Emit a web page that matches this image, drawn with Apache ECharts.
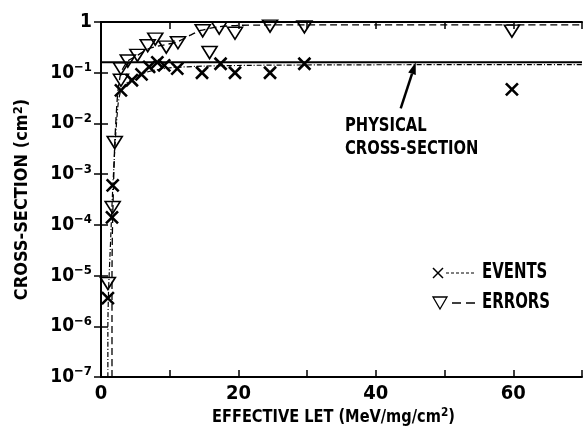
<!DOCTYPE html>
<html>
<head>
<meta charset="utf-8">
<script src="https://cdn.jsdelivr.net/npm/echarts@6/dist/echarts.min.js"></script>
<style>
  html, body { margin: 0; padding: 0; background: #fff; }
  #chart { width: 585px; height: 433px; }
</style>
</head>
<body>
<div id="chart"></div>
<script>
// Measured single-event upsets versus effective LET
const eventsLet = [1.0, 1.6, 1.7, 2.9, 4.5, 5.9, 7.0, 8.2, 9.2, 11.1, 14.7, 17.4, 19.5, 24.6, 29.6, 59.8];
const eventsXs  = [3.6e-6, 1.4e-4, 6.0e-4, 0.045, 0.071, 0.093, 0.13, 0.16, 0.14, 0.12, 0.10, 0.15, 0.10, 0.10, 0.15, 0.047];

const errorsLet = [1.0, 1.7, 2.0, 2.9, 2.9, 3.9, 5.3, 6.8, 7.9, 9.5, 11.2, 14.8, 15.8, 17.2, 19.5, 24.6, 29.6, 59.8];
const errorsXs  = [7e-6, 2.2e-4, 4.2e-3, 0.12, 0.071, 0.17, 0.22, 0.34, 0.46, 0.32, 0.39, 0.67, 0.25, 0.76, 0.60, 0.83, 0.80, 0.66];

// Fitted response curves
const eventsFitLet = [1.0, 1.0, 1.1, 1.4, 1.7, 2.1, 2.5, 2.9, 3.6, 4.5, 5.9, 7.5, 10, 15, 22, 35, 70];
const eventsFitXs  = [1e-7, 1e-6, 5e-6, 5e-5, 5e-4, 5e-3, 0.025, 0.045, 0.06, 0.075, 0.095, 0.11, 0.125, 0.135, 0.14, 0.143, 0.145];

const errorsFitLet = [1.6, 1.6, 1.65, 1.75, 2.0, 2.4, 2.9, 3.9, 5.3, 7.0, 9.0, 11.0, 13.0, 14.5, 17.0, 20.0, 30, 70];
const errorsFitXs  = [1e-7, 1e-5, 6e-5, 2.5e-4, 4e-3, 0.035, 0.1, 0.17, 0.22, 0.3, 0.35, 0.4, 0.55, 0.68, 0.8, 0.86, 0.88, 0.88];

// Physical (geometric) cross-section
const physicalLet = [0, 70];
const physicalXs  = [0.16, 0.16];

const FONT = '"Liberation Sans Narrow","DejaVu Sans Condensed","Arial Narrow",sans-serif';
const pairs = (xs, ys) => xs.map((x, i) => [x, ys[i]]);

const X_PATH = 'path://M0,0L10,10M10,0L0,10';
const TRI_PATH = 'path://M0,0L12,0L6,10Z';

const chart = echarts.init(document.getElementById('chart'), null, { renderer: 'canvas' });

const tickCommon = { inside: true, length: 7, lineStyle: { color: '#000', width: 1.5 } };
const lineCommon = { show: true, lineStyle: { color: '#000', width: 2 } };

chart.setOption({
  animation: false,
  backgroundColor: '#fff',
  grid: { left: 101, top: 22, right: -3, bottom: 56 },
  xAxis: [
    {
      type: 'value', min: 0, max: 70, interval: 10, position: 'bottom',
      axisLine: lineCommon, axisTick: tickCommon, splitLine: { show: false },
      axisLabel: {
        margin: 7, color: '#000', fontFamily: FONT, fontWeight: 'bold', fontSize: 20,
        formatter: v => (v % 20 === 0 && v < 70) ? String(v) : ''
      }
    },
    {
      type: 'value', min: 0, max: 70, interval: 10, position: 'top',
      axisLine: lineCommon, axisTick: tickCommon, splitLine: { show: false },
      axisLabel: { show: false }
    }
  ],
  yAxis: [
    {
      type: 'log', logBase: 10, min: 1e-7, max: 1, splitNumber: 7, position: 'left',
      axisLine: lineCommon, axisTick: tickCommon, splitLine: { show: false }, minorTick: { show: false },
      axisLabel: {
        margin: 9, color: '#000',
        formatter: v => {
          const e = Math.round(Math.log10(v));
          return e === 0 ? '{b|1}' : '{b|10}{s|\u2212' + (-e) + '}';
        },
        rich: {
          b: { fontFamily: FONT, fontWeight: 'bold', fontSize: 19, color: '#000' },
          s: { fontFamily: FONT, fontWeight: 'bold', fontSize: 13, color: '#000', padding: [0, 0, 10, 0] }
        }
      },
      name: '{a|CROSS-SECTION (cm}{s|2}{a|)}',
      nameLocation: 'middle', nameGap: 68, nameRotate: 90,
      nameTextStyle: {
        rich: {
          a: { fontFamily: FONT, fontWeight: 'bold', fontSize: 18, color: '#000' },
          s: { fontFamily: FONT, fontWeight: 'bold', fontSize: 13, color: '#000', padding: [0, 0, 8, 0] }
        }
      }
    },
    {
      type: 'log', logBase: 10, min: 1e-7, max: 1, splitNumber: 7, position: 'right',
      axisLine: lineCommon, axisTick: tickCommon, splitLine: { show: false },
      axisLabel: { show: false }
    }
  ],
  series: [
    {
      name: 'PHYSICAL CROSS-SECTION', type: 'line', data: pairs(physicalLet, physicalXs),
      symbol: 'none', lineStyle: { color: '#000', width: 2 }, z: 2, silent: true
    },
    {
      name: 'EVENTS FIT', type: 'line', data: pairs(eventsFitLet, eventsFitXs),
      symbol: 'none', smooth: 0.2, lineStyle: { color: '#000', width: 1.2, type: [5, 2, 1, 2] }, z: 2, silent: true
    },
    {
      name: 'ERRORS FIT', type: 'line', data: pairs(errorsFitLet, errorsFitXs),
      symbol: 'none', smooth: 0.2, lineStyle: { color: '#000', width: 1.3, type: [7, 4] }, z: 2, silent: true
    },
    {
      name: 'EVENTS', type: 'scatter', data: pairs(eventsLet, eventsXs),
      symbol: X_PATH, symbolSize: 12,
      itemStyle: { color: 'transparent', borderColor: '#000', borderWidth: 2.6, opacity: 1 }, z: 3, silent: true
    },
    {
      name: 'ERRORS', type: 'scatter', data: pairs(errorsLet, errorsXs),
      symbol: TRI_PATH, symbolSize: [15, 12],
      itemStyle: { color: 'transparent', borderColor: '#000', borderWidth: 1.6, opacity: 1 }, z: 4, silent: true
    }
  ]
});

// Annotation arrow pointing at the physical cross-section line, plus legend and x title
const tip = chart.convertToPixel({ gridIndex: 0 }, [45.8, physicalXs[0]]);
const tail = [tip[0] - 15, tip[1] + 46];
const dx = tip[0] - tail[0], dy = tip[1] - tail[1];
const len = Math.hypot(dx, dy), ux = dx / len, uy = dy / len;
const hb = [tip[0] - 12 * ux, tip[1] - 12 * uy];
const px = -uy, py = ux;

const NARROW = 0.82;

chart.setOption({
  graphic: [
    { type: 'line', silent: true, shape: { x1: tail[0], y1: tail[1], x2: hb[0], y2: hb[1] }, style: { stroke: '#000', lineWidth: 2.5 } },
    { type: 'polygon', silent: true, shape: { points: [[tip[0], tip[1]], [hb[0] + 4 * px, hb[1] + 4 * py], [hb[0] - 4 * px, hb[1] - 4 * py]] }, style: { fill: '#000' } },
    { type: 'text', silent: true, x: 345, y: 114, scaleX: NARROW,
      style: { text: 'PHYSICAL\nCROSS-SECTION', fill: '#000', font: 'bold 20px ' + FONT, lineHeight: 23 } },

    // legend: events
    { type: 'line', silent: true, shape: { x1: 433, y1: 268, x2: 443, y2: 278 }, style: { stroke: '#000', lineWidth: 1.5 } },
    { type: 'line', silent: true, shape: { x1: 443, y1: 268, x2: 433, y2: 278 }, style: { stroke: '#000', lineWidth: 1.5 } },
    { type: 'line', silent: true, shape: { x1: 446, y1: 273, x2: 476, y2: 273 }, style: { stroke: '#000', lineWidth: 1.2, lineDash: [3, 2] } },
    { type: 'text', silent: true, x: 482, y: 273, scaleX: 0.79, style: { text: 'EVENTS', fill: '#000', font: 'bold 21px ' + FONT, verticalAlign: 'middle' } },

    // legend: errors
    { type: 'polygon', silent: true, shape: { points: [[433, 297], [447, 297], [440, 309]] }, style: { stroke: '#000', lineWidth: 1.3, fill: 'transparent' } },
    { type: 'line', silent: true, shape: { x1: 452, y1: 303, x2: 477, y2: 303 }, style: { stroke: '#000', lineWidth: 1.4, lineDash: [9, 5] } },
    { type: 'text', silent: true, x: 482, y: 303, scaleX: 0.79, style: { text: 'ERRORS', fill: '#000', font: 'bold 21px ' + FONT, verticalAlign: 'middle' } },

    // x axis title
    { type: 'text', silent: true, x: 212, y: 417, scaleX: 0.9,
      style: {
        text: '{a|EFFECTIVE LET (MeV/mg/cm}{s|2}{a|)}', verticalAlign: 'middle',
        rich: {
          a: { fontFamily: FONT, fontWeight: 'bold', fontSize: 18, fill: '#000' },
          s: { fontFamily: FONT, fontWeight: 'bold', fontSize: 13, fill: '#000', padding: [0, 0, 9, 0] }
        }
      } }
  ]
});
</script>
</body>
</html>
